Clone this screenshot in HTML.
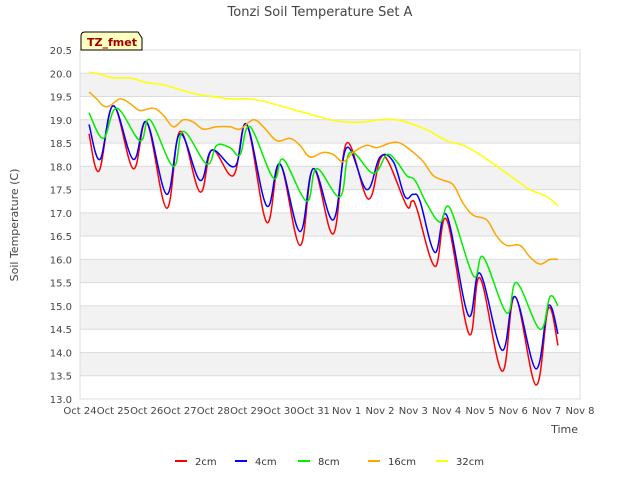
<!DOCTYPE html>
<html><head><meta charset="utf-8"><style>
body{margin:0;background:#fff;font-family:"Liberation Sans","DejaVu Sans",sans-serif;}
svg text{font-family:"DejaVu Sans","Liberation Sans",sans-serif;}
</style></head><body>
<svg id="chart" width="640" height="480">
<rect x="0" y="0" width="640" height="480" fill="#fff"/>
<g id="bands"></g><g id="grid"></g><g id="axes"></g><g id="series"></g>
<text x="320" y="16" text-anchor="middle" font-size="13" fill="#444">Tonzi Soil Temperature Set A</text>
<text x="18" y="225" text-anchor="middle" font-size="11" fill="#444" transform="rotate(-90 18 225)">Soil Temperature (C)</text>
<text x="578" y="433" text-anchor="end" font-size="11" fill="#444">Time</text>
<g>
<path d="M81,50 L81,36 Q81,32 85,32 L138,32 L142,38 L142,50 Z" fill="#ffffc0" stroke="#000" stroke-width="1"/>
<text x="87" y="46" font-size="11" font-weight="bold" fill="#a00000">TZ_fmet</text>
</g>
<g id="legend"></g>
</svg>
<script>
const yTicks=[13.0,13.5,14.0,14.5,15.0,15.5,16.0,16.5,17.0,17.5,18.0,18.5,19.0,19.5,20.0,20.5];
const xTickLabels=["Oct 24","Oct 25","Oct 26","Oct 27","Oct 28","Oct 29","Oct 30","Oct 31","Nov 1","Nov 2","Nov 3","Nov 4","Nov 5","Nov 6","Nov 7","Nov 8"];
const seriesNames=["2cm","4cm","8cm","16cm","32cm"];
const seriesColors=["#ff0000","#0000ff","#00ee00","#ffa500","#ffff00"];
const s2cm=[[0.27,18.7],[0.57,17.9],[1.0,19.3],[1.6,17.95],[2.0,18.95],[2.6,17.1],[3.0,18.75],[3.6,17.45],[3.96,18.35],[4.6,17.8],[5.0,18.9],[5.6,16.8],[6.0,18.05],[6.6,16.3],[7.0,17.95],[7.6,16.55],[8.0,18.5],[8.64,17.3],[9.0,18.15],[9.25,18.1],[9.8,17.15],[9.95,17.25],[10.1,17.1],[10.65,15.85],[11.0,16.85],[11.67,14.4],[12.0,15.6],[12.66,13.6],[13.05,15.2],[13.68,13.3],[14.05,14.95],[14.34,14.15]];
const s4cm=[[0.27,18.9],[0.6,18.15],[1.0,19.3],[1.6,18.15],[2.0,18.95],[2.6,17.4],[3.0,18.7],[3.6,17.7],[3.96,18.35],[4.65,18.0],[5.0,18.9],[5.6,17.15],[6.0,18.05],[6.6,16.6],[7.0,17.95],[7.6,16.85],[8.0,18.4],[8.6,17.5],[9.0,18.2],[9.4,18.1],[9.75,17.35],[10.0,17.4],[10.2,17.25],[10.65,16.15],[11.0,16.95],[11.65,14.8],[12.0,15.7],[12.66,14.05],[13.05,15.2],[13.68,13.65],[14.05,15.0],[14.34,14.4]];
const s8cm=[[0.27,19.15],[0.7,18.6],[1.1,19.25],[1.8,18.55],[2.1,19.0],[2.8,18.0],[3.1,18.75],[3.8,18.05],[4.1,18.45],[4.5,18.4],[4.8,18.25],[5.1,18.85],[5.8,17.75],[6.1,18.15],[6.8,17.25],[7.1,17.95],[7.8,17.35],[8.1,18.3],[8.8,17.85],[9.2,18.25],[9.5,18.1],[9.8,17.8],[10.05,17.7],[10.4,17.2],[10.8,16.8],[11.1,17.1],[11.8,15.65],[12.1,16.05],[12.8,14.85],[13.1,15.5],[13.8,14.5],[14.1,15.2],[14.34,15.0]];
const s16cm=[[0.27,19.6],[0.5,19.45],[0.7,19.3],[0.9,19.3],[1.2,19.45],[1.5,19.35],[1.8,19.2],[2.2,19.25],[2.5,19.1],[2.8,18.85],[3.1,19.0],[3.4,18.95],[3.7,18.8],[4.1,18.85],[4.5,18.85],[4.8,18.8],[5.2,19.0],[5.5,18.85],[5.9,18.55],[6.3,18.6],[6.6,18.45],[6.9,18.2],[7.3,18.3],[7.6,18.25],[7.9,18.1],[8.2,18.3],[8.6,18.45],[8.9,18.4],[9.3,18.5],[9.6,18.5],[10.0,18.3],[10.3,18.1],[10.6,17.8],[10.9,17.7],[11.2,17.6],[11.5,17.2],[11.8,16.95],[12.2,16.85],[12.5,16.5],[12.8,16.3],[13.2,16.3],[13.5,16.05],[13.8,15.9],[14.1,16.0],[14.34,16.0]];
const s32cm=[[0.27,20.02],[0.5,20.0],[1.0,19.9],[1.5,19.9],[2.0,19.8],[2.5,19.75],[3.0,19.65],[3.5,19.55],[4.0,19.5],[4.5,19.45],[5.0,19.45],[5.5,19.4],[6.0,19.3],[6.5,19.2],[7.0,19.1],[7.5,19.0],[8.0,18.95],[8.5,18.95],[9.0,19.0],[9.5,19.0],[10.0,18.9],[10.5,18.75],[11.0,18.55],[11.5,18.45],[12.0,18.25],[12.5,18.0],[13.0,17.75],[13.5,17.5],[14.0,17.35],[14.34,17.15]];
const allSeries=[s2cm,s4cm,s8cm,s16cm,s32cm];
const NS="http://www.w3.org/2000/svg";
const X0=80,X1=580,Y0=399,Y1=50,VMIN=13,VMAX=20.5,DAYS=15;
const xs=d=>X0+(X1-X0)*d/DAYS;
const ys=v=>Y0-(Y0-Y1)*(v-VMIN)/(VMAX-VMIN);
function mk(tag,attrs,parent){const e=document.createElementNS(NS,tag);for(const k in attrs)e.setAttribute(k,attrs[k]);parent.appendChild(e);return e;}
function smoothPath(pts){
 let d='M'+pts[0][0].toFixed(1)+','+pts[0][1].toFixed(1);
 for(let i=0;i<pts.length-1;i++){
  const p0=pts[Math.max(0,i-1)],p1=pts[i],p2=pts[i+1],p3=pts[Math.min(pts.length-1,i+2)];
  const t=0.18;
  const c1x=p1[0]+(p2[0]-p0[0])*t,c1y=p1[1]+(p2[1]-p0[1])*t;
  const c2x=p2[0]-(p3[0]-p1[0])*t,c2y=p2[1]-(p3[1]-p1[1])*t;
  d+=' C'+c1x.toFixed(1)+','+c1y.toFixed(1)+' '+c2x.toFixed(1)+','+c2y.toFixed(1)+' '+p2[0].toFixed(1)+','+p2[1].toFixed(1);
 }
 return d;
}
const bands=document.getElementById('bands'),grid=document.getElementById('grid'),axes=document.getElementById('axes'),ser=document.getElementById('series'),leg=document.getElementById('legend');
for(let i=1;i<yTicks.length-1;i+=2){
 const r=mk('rect',{x:X0,y:ys(yTicks[i+1]),width:X1-X0,height:ys(yTicks[i])-ys(yTicks[i+1]),fill:'#f2f2f2'},bands);
 
 
}
yTicks.forEach(v=>{
 const l=mk('line',{x1:X0,x2:X1,y1:ys(v),y2:ys(v),stroke:'#dcdcdc','stroke-width':1},grid);
 
 
 const t=mk('text',{x:X0-8,y:ys(v)+4,'text-anchor':'end','font-size':10,fill:'#444'},axes);
 t.textContent=v.toFixed(1);
 
 
});
xTickLabels.forEach((s,i)=>{
 const t=mk('text',{x:xs(i),y:414,'text-anchor':'middle','font-size':10,fill:'#444'},axes);
 t.textContent=s;
 
 
});
mk('rect',{x:X0,y:Y1,width:X1-X0,height:Y0-Y1,fill:'none',stroke:'#dcdcdc'},axes);
allSeries.forEach((s,i)=>{
 const p=mk('path',{d:smoothPath(s.map(q=>[xs(q[0]),ys(q[1])])),fill:'none',stroke:seriesColors[i],'stroke-width':1.5,'stroke-linejoin':'round'},ser);
 
 
});
const lx=[175,235,298,368,436];
seriesNames.forEach((n,i)=>{
 const g=mk('g',{},leg);
 
 
 mk('line',{x1:lx[i],x2:lx[i]+12,y1:461,y2:461,stroke:seriesColors[i],'stroke-width':2},g);
 const t=mk('text',{x:lx[i]+20,y:465,'font-size':10,fill:'#333'},g);
 t.textContent=n;
});
</script>
</body></html>
